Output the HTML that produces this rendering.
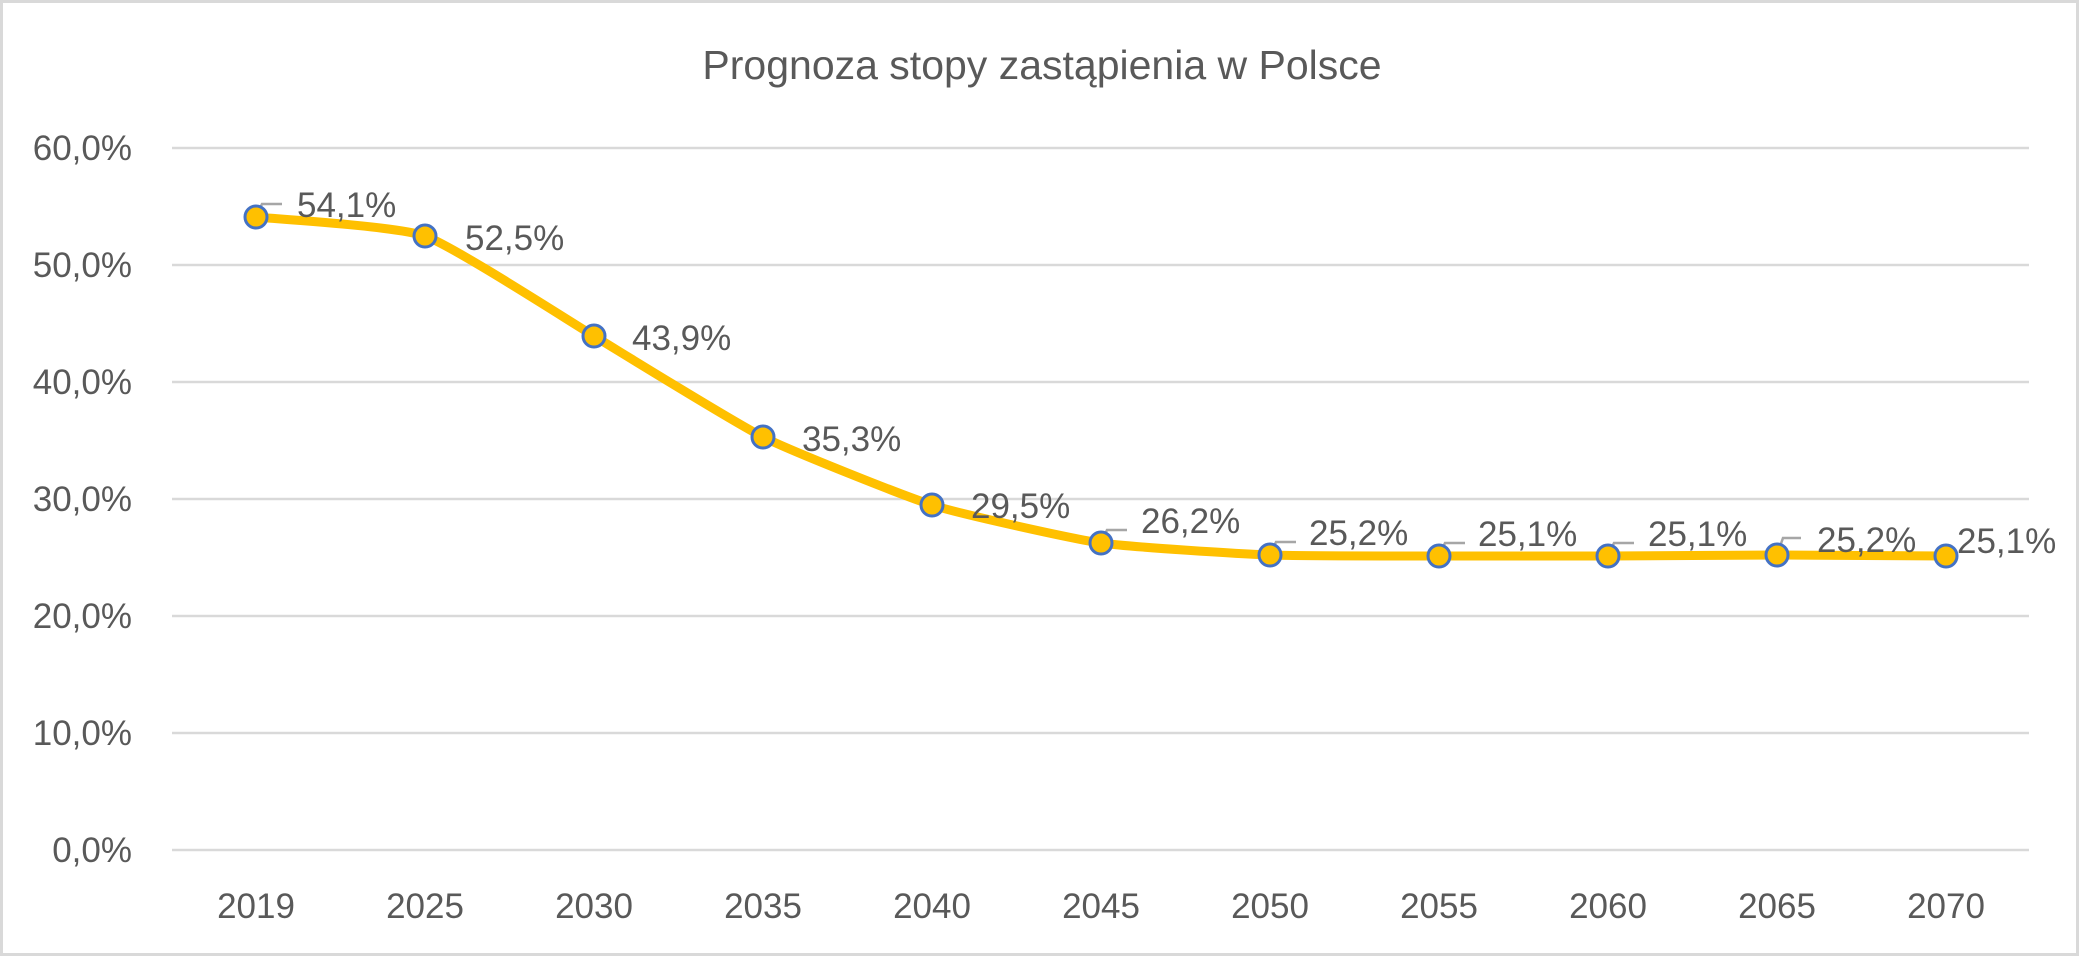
<!DOCTYPE html>
<html><head><meta charset="utf-8"><style>
body{margin:0;background:#fff}
svg text{font-family:"Liberation Sans",sans-serif;fill:#595959}
</style></head><body>
<svg width="2081" height="958" viewBox="0 0 2081 958" xmlns="http://www.w3.org/2000/svg">
<rect x="1.5" y="1.5" width="2076" height="953" fill="#fff" stroke="#d9d9d9" stroke-width="3"/>
<text x="1042" y="79" font-size="41" text-anchor="middle">Prognoza stopy zastąpienia w Polsce</text>
<g stroke="#d9d9d9" stroke-width="2.5">
<line x1="172" x2="2029" y1="148" y2="148"/><line x1="172" x2="2029" y1="265" y2="265"/>
<line x1="172" x2="2029" y1="382" y2="382"/><line x1="172" x2="2029" y1="499" y2="499"/>
<line x1="172" x2="2029" y1="616" y2="616"/><line x1="172" x2="2029" y1="733" y2="733"/>
<line x1="172" x2="2029" y1="850" y2="850"/>
</g>
<g font-size="35" text-anchor="end">
<text x="132" y="160">60,0%</text><text x="132" y="277">50,0%</text><text x="132" y="394">40,0%</text>
<text x="132" y="511">30,0%</text><text x="132" y="628">20,0%</text><text x="132" y="745">10,0%</text>
<text x="132" y="862">0,0%</text>
</g>
<g font-size="35" text-anchor="middle">
<text x="256" y="918">2019</text><text x="425" y="918">2025</text><text x="594" y="918">2030</text>
<text x="763" y="918">2035</text><text x="932" y="918">2040</text><text x="1101" y="918">2045</text>
<text x="1270" y="918">2050</text><text x="1439" y="918">2055</text><text x="1608" y="918">2060</text>
<text x="1777" y="918">2065</text><text x="1946" y="918">2070</text>
</g>
<path fill="none" stroke="#FFC000" stroke-width="9" stroke-linecap="round" d="M256,217 C270,218.6 397,226 425,236 C453,246 566,319 594,336 C622,353 735,423 763,437 C791,451 904,496 932,505 C960,514 1073,539 1101,543 C1129,547 1242,554 1270,555 C1298,556 1411,556 1439,556 L1608,556 C1636,556 1749,555 1777,555 L1946,556"/>
<g stroke="#a6a6a6" stroke-width="2.5" fill="none">
<polyline points="256,217 262,204 282,204"/><polyline points="1101,543 1107,530 1127,530"/>
<polyline points="1270,555 1276,542 1296,542"/><polyline points="1439,556 1445,543 1465,543"/>
<polyline points="1608,556 1614,543 1634,543"/><polyline points="1777,555 1783,538 1801,538"/>
</g>
<g fill="#FFC000" stroke="#4472C4" stroke-width="3">
<circle cx="256" cy="217" r="11"/><circle cx="425" cy="236" r="11"/><circle cx="594" cy="336" r="11"/>
<circle cx="763" cy="437" r="11"/><circle cx="932" cy="505" r="11"/><circle cx="1101" cy="543" r="11"/>
<circle cx="1270" cy="555" r="11"/><circle cx="1439" cy="556" r="11"/><circle cx="1608" cy="556" r="11"/>
<circle cx="1777" cy="555" r="11"/><circle cx="1946" cy="556" r="11"/>
</g>
<g font-size="35" style="fill:#404040">
<text x="297" y="217">54,1%</text><text x="465" y="250">52,5%</text><text x="632" y="350">43,9%</text>
<text x="802" y="451">35,3%</text><text x="971" y="518">29,5%</text><text x="1141" y="533">26,2%</text>
<text x="1309" y="545">25,2%</text><text x="1478" y="546">25,1%</text><text x="1648" y="546">25,1%</text>
<text x="1817" y="552">25,2%</text><text x="1957" y="553">25,1%</text>
</g>
</svg>
</body></html>
